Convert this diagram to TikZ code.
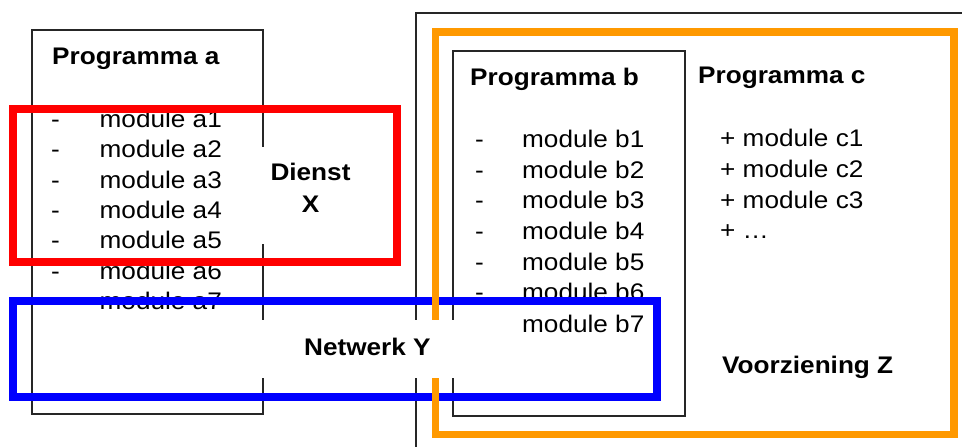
\documentclass[tikz,border=0pt]{standalone}
\usepackage{fontspec}
\setmainfont{Liberation Sans}[FakeStretch=1.09]
\definecolor{zorange}{HTML}{FF9900}
\definecolor{xred}{HTML}{FF0000}
\definecolor{yblue}{HTML}{0000FF}
\begin{document}
\begin{tikzpicture}[x=1pt,y=-1pt,
  frame/.style={draw=black!85,line width=1.3pt},
  band/.style={line width=7.5pt},
  txt/.style={anchor=base west,inner sep=0pt,font=\fontsize{24}{29}\selectfont},
  hd/.style={txt,font=\fontsize{24}{29}\selectfont\bfseries},
  mask/.style={fill=white}]
\useasboundingbox (0,0) rectangle (962,447);

% outer enclosure (open to the right and bottom)
\draw[frame] (416,460) -- (416,13) -- (975,13);

% programme boxes
\draw[frame] (32,30) rectangle (263,414);
\draw[frame] (453,51) rectangle (685,416);

% Programma a
\node[hd] (pa) at (52,64) {Programma a};
\foreach \i/\y in {1/127,2/157.5,3/188,4/218,5/248.5,6/279,7/309.5}{
  \node[txt] (da\i) at (51,\y) {-};
  \node[txt] (ma\i) at (99.5,\y) {module a\i};
}

% Programma b
\node[hd] (pb) at (470,85) {Programma b};
\foreach \i/\y in {1/147,2/178,3/208,4/239,5/270,6/300}{
  \node[txt] (db\i) at (475,\y) {-};
}
\foreach \i/\y in {1/147,2/178,3/208,4/239,5/270,6/300,7/332}{
  \node[txt] (mb\i) at (522,\y) {module b\i};
}

% Programma c
\node[hd] (pc) at (698,83) {Programma c};
\node[txt] (mc1) at (720,146) {+ module c1};
\node[txt] (mc2) at (720,177) {+ module c2};
\node[txt] (mc3) at (720,208) {+ module c3};
\node[txt] (mc4) at (720,238) {+ …};

% coloured groupings
\draw[band,xred] (13,109) rectangle (397,262);
\draw[band,yblue] (13,301) rectangle (657,397);
\draw[band,zorange] (435.5,32) rectangle (954,434.5);

% label backgrounds
\fill[mask] (258,147) rectangle (390,244);
\fill[mask] (262,320) rectangle (455.5,378);

% group labels
\node[hd,anchor=base] (dx1) at (310.5,180) {Dienst};
\node[hd,anchor=base] (dx2) at (310.5,212) {X};
\node[hd] (ny) at (304,355) {Netwerk Y};
\node[hd] (vz) at (722,373) {Voorziening Z};
\end{tikzpicture}
\end{document}
